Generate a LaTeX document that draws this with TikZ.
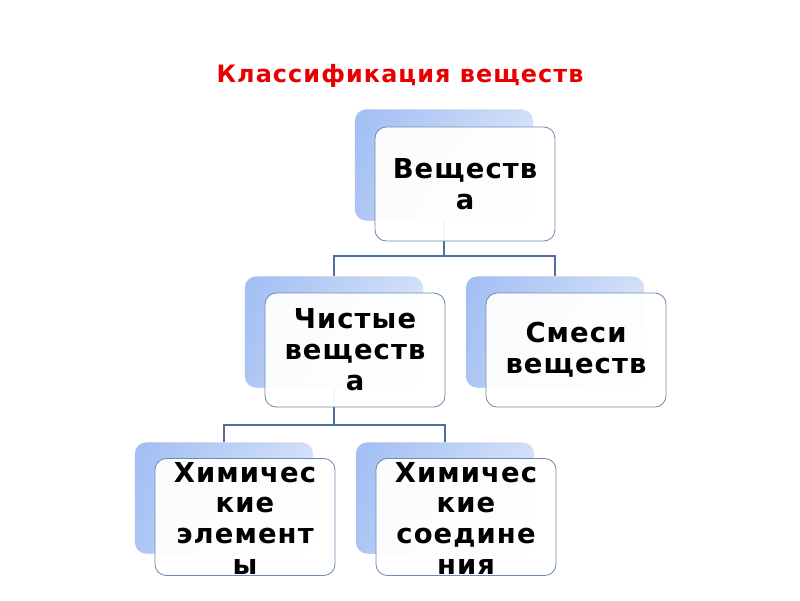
\documentclass[tikz,border=0pt]{standalone}
\usepackage{fontspec}
\setmainfont{DejaVu Sans}
\usepackage{tikz}
\usetikzlibrary{calc,positioning,fadings}
\definecolor{titlered}{RGB}{232,0,0}
\definecolor{linkblue}{RGB}{79,111,160}
\definecolor{boxline}{RGB}{110,140,175}
\definecolor{shadetop}{RGB}{208,222,249}
\definecolor{shadeleft}{RGB}{150,182,242}
\tikzset{
  backbox/.style={rounded corners=8pt, draw=black!8, top color=shadetop, bottom color=white,
    minimum width=178*0.025cm, minimum height=111*0.025cm, inner sep=0pt,
    postaction={fill=shadeleft, path fading=east, fill opacity=0.8}},
  boxfont/.style={font=\bfseries\fontsize{19.5}{22}\selectfont\addfontfeatures{LetterSpace=4}},
  frontbox/.style={rounded corners=8pt, draw=boxline, line width=0.6pt, fill=white, fill opacity=0.95,
    text opacity=1, minimum width=180*0.025cm, minimum height=114*0.025cm, inner sep=0pt,
    align=center, boxfont},
  boxtext/.style={align=center, boxfont, inner sep=0pt},
  cliptext/.style={path picture={\node[boxtext] at ([yshift=-1pt]path picture bounding box.center) {#1};}},
  link/.style={linkblue, line width=1.3pt}
}

\begin{document}
\begin{tikzpicture}[x=0.025cm, y=-0.025cm]
    \useasboundingbox (0,0) rectangle (800,600);

    \node[font=\bfseries\fontsize{17}{20}\selectfont\addfontfeatures{LetterSpace=4.5}, text=titlered] (title) at (400,76) {Классификация веществ};

    % back boxes
    \node[backbox] (subst-bg) at (444,165) {};
    \node[backbox] (pure-bg) at (334,332) {};
    \node[backbox] (mix-bg) at (555,332) {};
    \node[backbox] (elem-bg) at (224,498) {};
    \node[backbox] (comp-bg) at (445,498) {};

    % connectors
    \draw[link] (subst-bg.south) -- ++(0,35) -| (pure-bg.north);
    \draw[link] (subst-bg.south) -- ++(0,35) -| (mix-bg.north);
    \draw[link] (pure-bg.south) -- ++(0,37) -| (elem-bg.north);
    \draw[link] (pure-bg.south) -- ++(0,37) -| (comp-bg.north);

    % front boxes
    \node[frontbox] (subst) at ($(subst-bg.center)+(21,19)$) {Веществ\\а};
    \node[frontbox] (pure) at ($(pure-bg.center)+(21,18)$) {Чистые\\веществ\\а};
    \node[frontbox] (mix) at ($(mix-bg.center)+(21,18)$) {Смеси\\веществ};
    \node[frontbox, minimum height=117*0.025cm, cliptext={Химичес\\кие\\элемент\\ы}] (elem) at ($(elem-bg.center)+(21,19)$) {};
    \node[frontbox, minimum height=117*0.025cm, cliptext={Химичес\\кие\\соедине\\ния}] (comp) at ($(comp-bg.center)+(21,19)$) {};

\end{tikzpicture}
\end{document}
